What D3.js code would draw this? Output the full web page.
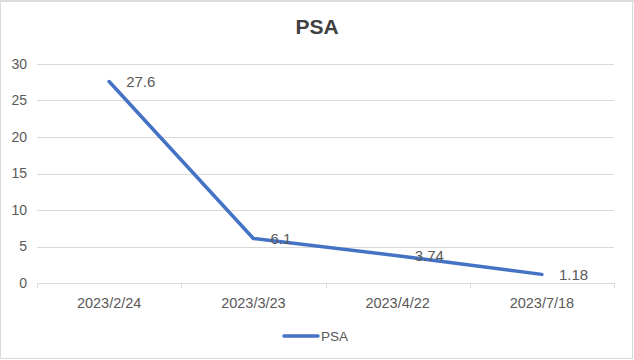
<!DOCTYPE html>
<html>
<head>
<meta charset="utf-8">
<script src="https://cdn.jsdelivr.net/npm/d3@7"></script>
<style>
  body { margin: 0; background: #fff; }
  svg { display: block; font-family: "Liberation Sans", Arial, sans-serif; }
</style>
</head>
<body>
<div id="wrapper"></div>
<script>
const categories = ["2023/2/24", "2023/3/23", "2023/4/22", "2023/7/18"];
const psaValues = [27.6, 6.1, 3.74, 1.18];
const psaLabels = ["27.6", "6.1", "3.74", "1.18"];
const yTicks = [0, 5, 10, 15, 20, 25, 30];

const data = categories.map((c, i) => ({ date: c, value: psaValues[i], label: psaLabels[i] }));
const xAccessor = (d) => d.date;
const yAccessor = (d) => d.value;

const dimensions = {
    width: 634,
    height: 360,
    margin: { top: 64, right: 20, bottom: 77, left: 37 },
};
dimensions.boundedWidth = 614 - dimensions.margin.left;
dimensions.boundedHeight = 283 - dimensions.margin.top;

const wrapper = d3.select("#wrapper")
    .append("svg")
    .attr("width", dimensions.width)
    .attr("height", dimensions.height);

// chart border
wrapper.append("rect")
    .attr("x", 0.5).attr("y", 0.5)
    .attr("width", dimensions.width - 2).attr("height", dimensions.height - 2)
    .attr("fill", "none")
    .attr("stroke", "#d9d9d9");
wrapper.append("rect")
    .attr("x", 0).attr("y", 0)
    .attr("width", dimensions.width).attr("height", 2)
    .attr("fill", "#dcdcdc");

wrapper.append("text")
    .attr("x", 317)
    .attr("y", 34)
    .attr("text-anchor", "middle")
    .style("font-size", "21px")
    .style("font-weight", "bold")
    .attr("fill", "#404040")
    .text("PSA");

const bounds = wrapper.append("g")
    .attr("transform", `translate(${dimensions.margin.left},${dimensions.margin.top})`);

const yScale = d3.scaleLinear()
    .domain([0, 30])
    .range([dimensions.boundedHeight, 0]);

const xScale = d3.scaleBand()
    .domain(categories)
    .range([0, dimensions.boundedWidth]);

// gridlines
bounds.append("g")
    .selectAll("line")
    .data(yTicks.filter((t) => t > 0))
    .join("line")
    .attr("x1", 0)
    .attr("x2", dimensions.boundedWidth)
    .attr("y1", (d) => Math.round(yScale(d)) + 0.5)
    .attr("y2", (d) => Math.round(yScale(d)) + 0.5)
    .attr("stroke", "#d9d9d9");

const yAxis = bounds.append("g")
    .call(d3.axisLeft(yScale).tickValues(yTicks).tickSize(0).tickPadding(10));
yAxis.select(".domain").remove();
yAxis.selectAll("text")
    .style("font-size", "14px")
    .attr("fill", "#595959");

const xAxisGenerator = d3.axisBottom(xScale).tickSize(0).tickPadding(15);
const xAxis = bounds.append("g")
    .attr("transform", `translate(0,${dimensions.boundedHeight})`)
    .call(xAxisGenerator);
xAxis.select(".domain")
    .attr("stroke", "#d9d9d9")
    .attr("d", `M0.5,5V0.5H${dimensions.boundedWidth + 0.5}V5`);
xAxis.selectAll("text")
    .style("font-size", "14.5px")
    .attr("fill", "#595959");
xAxis.append("g")
    .selectAll("line")
    .data(categories.slice(1))
    .join("line")
    .attr("x1", (d) => Math.round(xScale(d)) + 0.5)
    .attr("x2", (d) => Math.round(xScale(d)) + 0.5)
    .attr("y1", 0)
    .attr("y2", 5)
    .attr("stroke", "#d9d9d9");

const lineGenerator = d3.line()
    .x((d) => xScale(xAccessor(d)) + xScale.bandwidth() / 2)
    .y((d) => yScale(yAccessor(d)));

bounds.append("path")
    .attr("d", lineGenerator(data))
    .attr("fill", "none")
    .attr("stroke", "#4472c4")
    .attr("stroke-width", 3.5)
    .attr("stroke-linecap", "round")
    .attr("stroke-linejoin", "round");

bounds.append("g")
    .selectAll("text")
    .data(data)
    .join("text")
    .attr("x", (d) => xScale(xAccessor(d)) + xScale.bandwidth() / 2 + 17)
    .attr("y", (d) => yScale(yAccessor(d)))
    .attr("dy", "0.35em")
    .style("font-size", "15px")
    .attr("fill", "#595959")
    .text((d) => d.label);

// legend
const legend = wrapper.append("g").attr("transform", "translate(284,336)");
legend.append("line")
    .attr("x1", 0).attr("x2", 34)
    .attr("y1", 0).attr("y2", 0)
    .attr("stroke", "#4472c4")
    .attr("stroke-width", 3.5)
    .attr("stroke-linecap", "round");
legend.append("text")
    .attr("x", 37)
    .attr("y", 0)
    .attr("dy", "0.35em")
    .style("font-size", "13.5px")
    .attr("fill", "#595959")
    .text("PSA");
</script>
</body>
</html>
